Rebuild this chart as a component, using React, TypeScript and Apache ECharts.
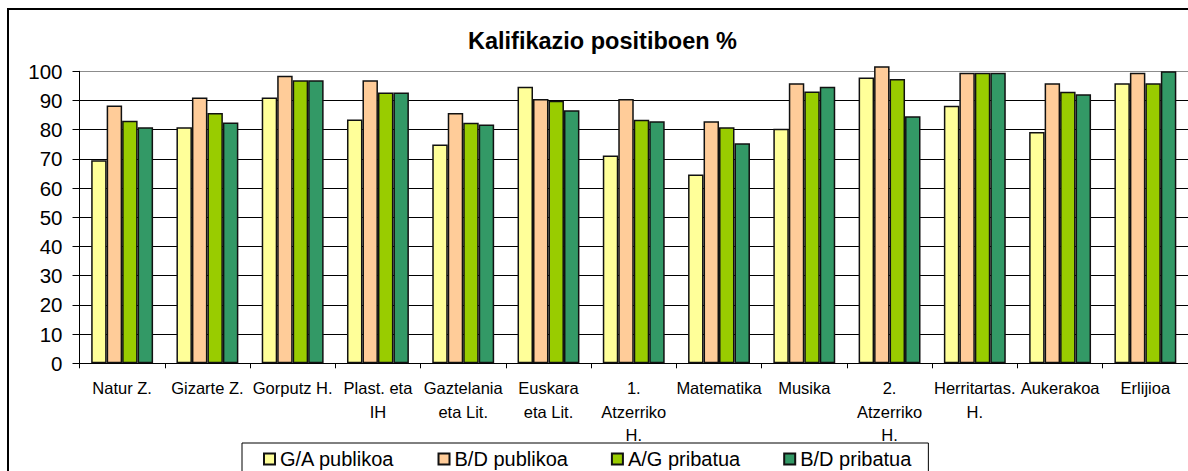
import React, { useEffect, useRef } from "react";
import * as echarts from "echarts";

const categories = [
  "Natur Z.",
  "Gizarte Z.",
  "Gorputz H.",
  "Plast. eta\nIH",
  "Gaztelania\neta Lit.",
  "Euskara\neta Lit.",
  "1.\nAtzerriko\nH.",
  "Matematika",
  "Musika",
  "2.\nAtzerriko\nH.",
  "Herritartas.\nH.",
  "Aukerakoa",
  "Erlijioa",
];

const seriesNames = ["G/A publikoa", "B/D publikoa", "A/G pribatua", "B/D pribatua"];

const gaPublikoa = [69.5, 80.8, 91.0, 83.5, 74.9, 94.7, 71.2, 64.7, 80.3, 97.9, 88.2, 79.2, 95.9];
const bdPublikoa = [88.3, 91.0, 98.5, 96.9, 85.7, 90.5, 90.5, 82.9, 95.9, 101.7, 99.5, 95.9, 99.5];
const agPribatua = [83.1, 85.7, 96.9, 92.7, 82.4, 89.9, 83.4, 80.8, 93.1, 97.4, 99.5, 93.0, 95.9];
const bdPribatua = [80.8, 82.5, 96.9, 92.7, 81.8, 86.7, 82.9, 75.4, 94.7, 84.6, 99.5, 92.1, 100];

const seriesColors = ["#FFFF99", "#FFCC99", "#99CC00", "#339966"];

const FONT = "'Liberation Sans', Arial, sans-serif";

export default function App() {
  const ref = useRef<HTMLDivElement>(null);

  useEffect(() => {
    if (!ref.current) return;
    const chart = echarts.init(ref.current, null, { renderer: "svg" });
    const allData = [gaPublikoa, bdPublikoa, agPribatua, bdPribatua];
    const splitColors = ["#000", "#000", "#000", "#000", "#000", "#000", "#000", "#000", "#000", "#000", "#8c8c8c"];
    chart.setOption({
      animation: false,
      backgroundColor: "#fff",
      title: {
        text: "Kalifikazio positiboen %",
        left: 468,
        top: 29,
        padding: 0,
        textStyle: { fontFamily: FONT, fontSize: 23.5, fontWeight: "bold", color: "#000" },
      },
      graphic: [
        {
          type: "rect",
          shape: { x: 8, y: 9, width: 1400, height: 700 },
          style: { fill: "none", stroke: "#000", lineWidth: 2 },
          silent: true,
          z: 100,
        },
      ],
      legend: {
        left: 242,
        top: 443,
        padding: [6, 17, 30, 21],
        borderColor: "#000",
        borderWidth: 1,
        itemWidth: 11,
        itemHeight: 11,
        itemGap: 43,
        icon: "rect",
        data: seriesNames,
        textStyle: { fontFamily: FONT, fontSize: 20, color: "#000", lineHeight: 20 },
      },
      grid: {
        left: 79.5,
        top: 71.3,
        right: -7.4,
        bottom: 471 - 363.3,
        containLabel: false,
      },
      xAxis: {
        type: "category",
        data: categories,
        axisLine: { show: true, lineStyle: { color: "#000", width: 1 } },
        axisTick: { show: true, length: 5, lineStyle: { color: "#000" } },
        axisLabel: {
          interval: 0,
          margin: 13,
          fontFamily: FONT,
          fontSize: 16.5,
          lineHeight: 23.5,
          color: "#000",
        },
        splitLine: { show: false },
      },
      yAxis: {
        type: "value",
        min: 0,
        max: 100,
        interval: 10,
        axisLine: { show: true, lineStyle: { color: "#000", width: 1 } },
        axisTick: { show: true, length: 7, inside: false, lineStyle: { color: "#000" } },
        axisLabel: { margin: 17, fontFamily: FONT, fontSize: 20.5, color: "#000" },
        splitLine: { show: true, lineStyle: { color: splitColors, width: 1 } },
      },
      series: seriesNames.map((name, i) => ({
        name,
        type: "bar",
        data: allData[i],
        barGap: "0%",
        barCategoryGap: "27.4%",
        clip: false,
        itemStyle: { color: seriesColors[i], borderColor: "#111", borderWidth: 1.5 },
      })),
    });
    return () => chart.dispose();
  }, []);

  return (
    <div
      ref={ref}
      style={{ position: "absolute", left: 0, top: 0, width: 1188, height: 471 }}
    />
  );
}
